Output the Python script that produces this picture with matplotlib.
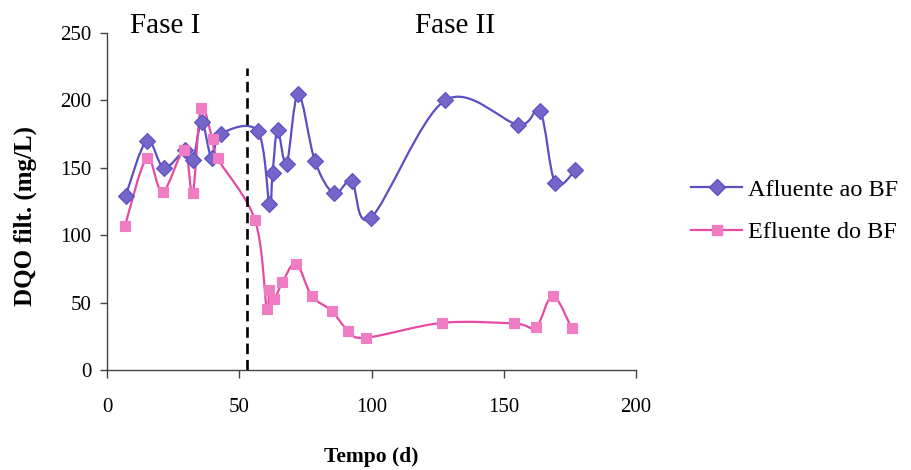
import numpy as np
import matplotlib
matplotlib.use("Agg")
import matplotlib.pyplot as plt
from matplotlib.path import Path
from matplotlib.patches import PathPatch
from matplotlib.lines import Line2D

# Filtered COD of the biofilter influent and effluent over time
dias_afluente = [7, 15, 21.5, 29.5, 32.5, 35.8, 39.6, 43, 57, 61.4, 62.6, 64.5,
                 67.9, 72.3, 78.6, 85.8, 92.5, 99.8, 127.8, 155.5, 163.7, 169.4, 177]
dqo_afluente = [129, 170, 150, 163, 156, 184, 157, 175, 177, 123, 146, 178,
                153, 205, 155, 131, 140, 113, 200, 182, 192, 139, 148]

dias_efluente = [6.8, 15, 21, 29.2, 32.4, 35.5, 39.9, 41.8, 56, 60.4, 61.4, 63.3,
                 66.3, 71.5, 77.4, 84.9, 91.2, 98.1, 126.8, 154, 162.2, 168.5, 175.7]
dqo_efluente = [107, 157, 132, 163, 131, 194, 171, 157, 111, 45, 59, 53,
                65, 79, 55, 44, 29, 24, 35, 34.5, 32, 55, 31]

inicio_fase2 = 53
serie_labels = ["Afluente ao BF", "Efluente do BF"]
fase_labels = ["Fase I", "Fase II"]

COR_AFL_LINHA = "#5a4fc4"
COR_AFL_MARC = "#7565c8"
COR_EFL_LINHA = "#e64aa2"
COR_EFL_MARC = "#f07cc4"

plt.rcParams["font.family"] = ["Liberation Serif", "DejaVu Serif"]


def curva_suave(x, y):
    """Smoothed (Catmull-Rom style) Bezier path through the data points."""
    p = np.column_stack([x, y]).astype(float)
    ext = np.vstack([p[0], p, p[-1]])
    verts = [tuple(p[0])]
    codes = [Path.MOVETO]
    for i in range(1, len(ext) - 2):
        p0, p1, p2, p3 = ext[i - 1], ext[i], ext[i + 1], ext[i + 2]
        c1 = p1 + (p2 - p0) / 6.0
        c2 = p2 - (p3 - p1) / 6.0
        verts += [tuple(c1), tuple(c2), tuple(p2)]
        codes += [Path.CURVE4] * 3
    return Path(verts, codes)


fig = plt.figure(figsize=(9.12, 4.70), dpi=100)
ax = fig.add_axes([107 / 912, 1 - 370 / 470, (636 - 107) / 912, (370 - 33) / 470])

ax.add_patch(PathPatch(curva_suave(dias_afluente, dqo_afluente), fill=False,
                       edgecolor=COR_AFL_LINHA, lw=1.6, zorder=3))
ax.add_patch(PathPatch(curva_suave(dias_efluente, dqo_efluente), fill=False,
                       edgecolor=COR_EFL_LINHA, lw=1.6, zorder=3))
ax.plot(dias_afluente, dqo_afluente, linestyle="none", marker="D", ms=8,
        mfc=COR_AFL_MARC, mec=COR_AFL_LINHA, mew=0.8, zorder=4)
ax.plot(dias_efluente, dqo_efluente, linestyle="none", marker="s", ms=7.5,
        mfc=COR_EFL_MARC, mec=COR_EFL_MARC, mew=0.8, zorder=4)

ax.plot([inicio_fase2, inicio_fase2], [0, 224], color="black", lw=1.9,
        linestyle=(0, (4, 2.2)), zorder=5)

ax.set_xlim(0, 200)
ax.set_ylim(0, 250)
ax.set_xticks([0, 50, 100, 150, 200])
ax.set_yticks([0, 50, 100, 150, 200, 250])
for s in ("top", "right"):
    ax.spines[s].set_visible(False)
for s in ("left", "bottom"):
    ax.spines[s].set_color("#444444")
    ax.spines[s].set_linewidth(1.0)
ax.tick_params(axis="x", direction="out", length=6, width=1.0, color="#444444",
               pad=14, labelsize=15)
ax.tick_params(axis="y", direction="out", length=5, width=1.0, color="#444444",
               pad=6, labelsize=15)

ax.set_xlabel("Tempo (d)", fontsize=15.5, fontweight="bold", labelpad=22)
ax.set_ylabel("DQO filt. (mg/L)", fontsize=18, fontweight="bold")
ax.yaxis.set_label_coords((37 - 107) / 529, (370 - 216) / 337)

fig.text(165 / 912, 1 - 33 / 470, fase_labels[0], fontsize=21, ha="center", va="baseline")
fig.text(455 / 912, 1 - 33 / 470, fase_labels[1], fontsize=21, ha="center", va="baseline")

handles = [
    Line2D([], [], color=COR_AFL_LINHA, lw=1.6, marker="D", ms=8,
           mfc=COR_AFL_MARC, mec=COR_AFL_LINHA),
    Line2D([], [], color=COR_EFL_LINHA, lw=1.6, marker="s", ms=7.5,
           mfc=COR_EFL_MARC, mec=COR_EFL_MARC),
]
fig.legend(handles, serie_labels, loc="center left",
           bbox_to_anchor=(691 / 912, 1 - 211 / 470), frameon=False,
           fontsize=17.5, handlelength=2.1, handletextpad=0.25, labelspacing=0.85,
           borderpad=0, borderaxespad=0)

fig.savefig("out.png", dpi=100)
